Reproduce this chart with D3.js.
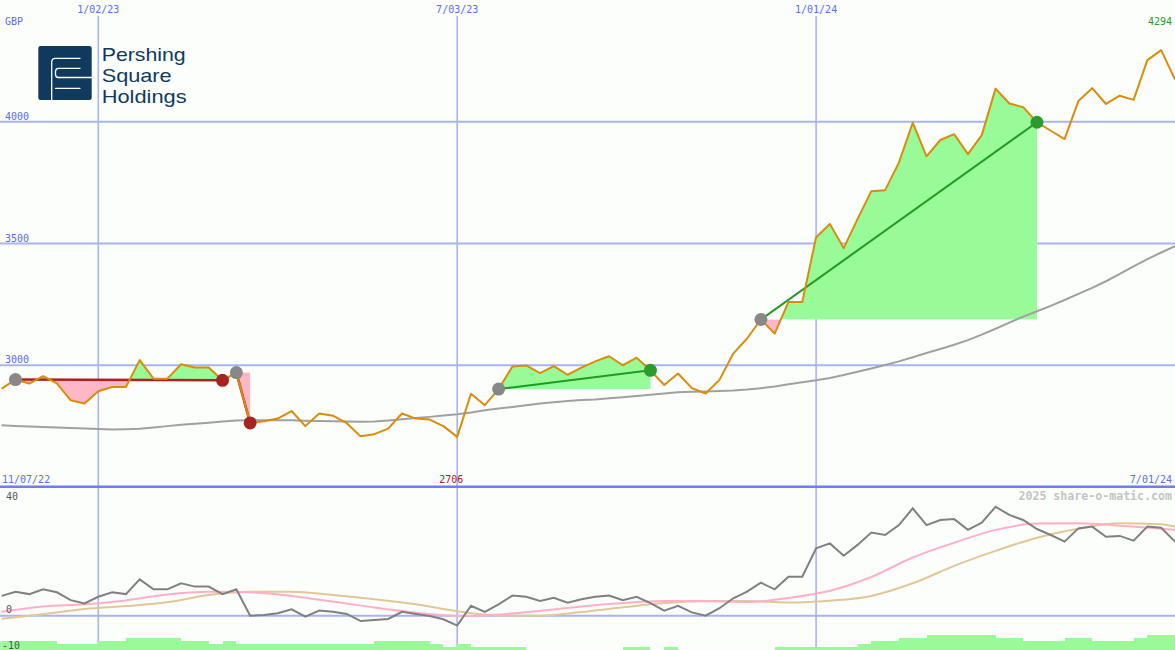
<!DOCTYPE html>
<html><head><meta charset="utf-8">
<script src="https://cdn.jsdelivr.net/npm/d3@7"></script>
<style>
html,body{margin:0;padding:0;background:#fcfefc;}
svg{display:block;}
</style></head><body>
<svg id="chart" width="1175" height="650"></svg>
<script>
// ---------------- DATA ----------------
const startDate = "2022-11-14";          // first weekly close
const price = [2904,2941,2925,2955,2926,2856,2843,2893,2911,2911,
 3021,2945,2945,3004,2991,2991,2938,2970,2763,2770,
 2781,2812,2750,2802,2793,2762,2708,2717,2740,2802,
 2781,2777,2750,2706,2883,2836,2902,2995,2999,2968,
 2996,2961,2990,3016,3037,3000,3031,2979,2919,2966,
 2906,2884,2940,3048,3110,3188,3130,3260,3260,3526,
 3580,3481,3600,3715,3719,3832,3996,3858,3925,3949,
 3867,3945,4136,4075,4060,3998,3963,3929,4085,4138,
 4073,4107,4090,4253,4294,4173];
const movingAverage = [2754,2751,2748,2746,2744,2742,2740,2738,2736,2737,
 2739,2744,2750,2756,2760,2764,2769,2773,2774,2774,
 2774,2774,2772,2771,2770,2769,2768,2769,2773,2778,
 2783,2788,2794,2799,2806,2815,2822,2829,2836,2843,
 2848,2853,2857,2859,2864,2869,2874,2879,2884,2889,
 2891,2892,2894,2896,2900,2906,2913,2922,2930,2938,
 2948,2960,2973,2987,3001,3016,3033,3050,3067,3084,
 3103,3126,3150,3175,3200,3222,3244,3268,3293,3318,
 3345,3375,3406,3436,3463,3489];
const momentum = [6.6,8.0,7.2,8.8,7.8,5.2,4.1,6.3,7.8,7.2,
 12.1,8.8,8.8,10.8,9.7,9.7,7.2,8.8,0.0,0.2,
 0.8,2.1,-0.3,1.7,1.3,0.6,-1.8,-1.4,-1.1,1.3,
 0.6,-0.1,-1.2,-3.3,3.3,1.3,3.8,6.7,6.3,4.9,
 6.0,4.3,5.5,6.3,6.7,5.2,6.3,4.2,1.7,3.3,
 1.1,0.0,2.5,5.8,8.0,11.0,8.8,13.0,13.0,22.5,
 24.1,20.0,23.6,27.7,26.9,30.2,35.8,30.2,31.9,32.2,
 28.6,31.0,36.3,33.6,31.9,28.9,26.9,24.7,29.1,29.7,
 26.3,26.6,25.0,29.7,29.3,24.7];
const smoothWeeks = [0,3,6,9,12,15,18,21,24,27,30,33,36,39,42,45,48,51,54,57,60,63,66,69,72,75,78,81,84,85];
const pinkValues = [1.3,3.1,3.8,5.1,7.1,8.0,7.8,6.6,4.7,2.7,1.0,-0.1,0.4,1.6,3.1,4.2,4.9,4.8,4.6,5.9,8.3,12.9,19.4,24.3,28.6,30.7,30.8,30.0,29.0,28.6];
const tanValues = [-1.0,0.5,2.2,3.2,4.5,6.9,8.0,8.0,6.9,5.5,3.8,1.5,0.1,0.0,1.2,2.8,4.2,4.9,4.9,4.4,5.0,6.6,10.8,16.6,21.6,26.0,29.0,30.8,30.5,29.7];
const volumeLevel = [3,3,3,3,2,2,2,3,3,4,4,4,4,3,3,2,3,
 2,2,2,2,2,2,2,2,2,2,3,3,3,3,2,1,2,1,1,1,1,
 0,0,0,0,0,0,0,1,1,0,1,0,0,0,0,0,0,0,
 1,1,1,1,1,1,2,3,3,4,4,5,5,5,5,5,4,4,3,3,3,4,4,3,3,3,4,5,5,5];
const buyWeek  = [1,17,36,55];
const sellWeek = [16,18,47,75];
const gridDates = ["2023-01-02","2023-07-03","2024-01-01"];
const gridDateLabels = ["1/02/23","7/03/23","1/01/24"];
const priceTicks = [3000,3500,4000];
const lowerTicks = [40,0,-10];
const periodLabels = ["11/07/22","7/01/24"];
const currency = "GBP";
const logoLines = ["Pershing","Square","Holdings"];

// ---------------- SETUP ----------------
const W = 1175, H = 650, DIV = 487;
const svg = d3.select("#chart");
const parse = d3.utcParse("%Y-%m-%d");
const d0 = parse(startDate);
const dates = price.map((_, k) => d3.utcDay.offset(d0, 7 * k));
const x = d3.scaleUtc().domain([d0, dates[dates.length - 1]]).range([1.67, 1175]);
const y = d3.scaleLinear().domain([2500, 4500]).range([DIV, 0]);
const y2 = d3.scaleLinear().domain([0, 40]).range([615.7, 495.7]);
const vol = d3.scaleLinear().domain([0, 5]).range([0, 15]);

const C = {
  bg: "#fcfefc", grid: "#a9b3f3", div: "#6e7eec", lab: "#5a6cf0",
  price: "#da8c0c", ma: "#a0a0a0", green: "#98fb98", pink: "#ffb6c6",
  gLine: "#229a22", rLine: "#b02020", gDot: "#2c9a2c", rDot: "#a82222", buy: "#888888",
  mom: "#808080", pinkL: "#ffb0c8", tanL: "#e2c898", vol: "#98fb98", navy: "#0f3a5e"
};
const mono = "'DejaVu Sans Mono', 'Liberation Mono', monospace";

svg.append("rect").attr("width", W).attr("height", H).attr("fill", C.bg);
const defs = svg.append("defs");
defs.append("clipPath").attr("id", "upper").append("rect").attr("x", 0).attr("y", 0).attr("width", W).attr("height", DIV);
defs.append("clipPath").attr("id", "lower").append("rect").attr("x", 0).attr("y", DIV).attr("width", W).attr("height", H - DIV);

// ---------------- GRID ----------------
const grid = svg.append("g");
grid.selectAll("line.h").data(priceTicks).join("line")
  .attr("x1", 0).attr("x2", W).attr("y1", d => y(d)).attr("y2", d => y(d))
  .attr("stroke", C.grid).attr("stroke-width", 2);
grid.append("line").attr("x1", 0).attr("x2", W).attr("y1", y2(0)).attr("y2", y2(0))
  .attr("stroke", C.grid).attr("stroke-width", 2);
grid.selectAll("line.v").data(gridDates).join("line")
  .attr("x1", d => x(parse(d))).attr("x2", d => x(parse(d)))
  .attr("y1", 16).attr("y2", H)
  .attr("stroke", C.grid).attr("stroke-width", 1.6);

// ---------------- UPPER PANEL ----------------
const up = svg.append("g").attr("clip-path", "url(#upper)");
const trades = buyWeek.map((b, i) => ({ b, s: sellWeek[i], win: price[sellWeek[i]] > price[b] }));
trades.forEach((t, i) => {
  const seg = d3.range(t.b, t.s + 1);
  const yl = y(price[t.b]);
  const area = d3.area().x(k => x(dates[k])).y0(yl).y1(k => y(price[k]));
  defs.append("clipPath").attr("id", "ab" + i).append("rect").attr("x", 0).attr("y", 0).attr("width", W).attr("height", yl);
  defs.append("clipPath").attr("id", "be" + i).append("rect").attr("x", 0).attr("y", yl).attr("width", W).attr("height", DIV - yl);
  up.append("g").attr("clip-path", `url(#ab${i})`).append("path").attr("d", area(seg)).attr("fill", C.green);
  up.append("g").attr("clip-path", `url(#be${i})`).append("path").attr("d", area(seg)).attr("fill", C.pink);
});

const lineP = d3.line().x((d, k) => x(dates[k])).y(d => y(d));
up.append("path").attr("d", lineP(movingAverage)).attr("fill", "none").attr("stroke", C.ma).attr("stroke-width", 2);

trades.forEach(t => {
  up.append("line")
    .attr("x1", x(dates[t.b])).attr("y1", y(price[t.b]))
    .attr("x2", x(dates[t.s])).attr("y2", y(price[t.s]))
    .attr("stroke", t.win ? C.gLine : C.rLine).attr("stroke-width", t.win ? 2 : 2.5);
});
up.append("path").attr("d", lineP(price)).attr("fill", "none").attr("stroke", C.price).attr("stroke-width", 2).attr("stroke-linejoin", "round");

trades.forEach(t => {
  up.append("circle").attr("cx", x(dates[t.b])).attr("cy", y(price[t.b])).attr("r", 6.5).attr("fill", C.buy);
  up.append("circle").attr("cx", x(dates[t.s])).attr("cy", y(price[t.s])).attr("r", 6.5).attr("fill", t.win ? C.gDot : C.rDot);
});

// ---------------- LOWER PANEL ----------------
const lo = svg.append("g").attr("clip-path", "url(#lower)");
lo.selectAll("rect.v").data(volumeLevel).join("rect")
  .attr("x", (d, k) => x(dates[k]))
  .attr("width", (d, k) => (k < dates.length - 1 ? x(dates[k + 1]) - x(dates[k]) : 14))
  .attr("y", d => H - vol(d)).attr("height", d => vol(d))
  .attr("fill", C.vol).attr("shape-rendering", "crispEdges");
lo.append("rect").attr("x", 0).attr("width", x(dates[0])).attr("y", H - vol(volumeLevel[0])).attr("height", vol(volumeLevel[0])).attr("fill", C.vol);

const lineS = d3.line().curve(d3.curveMonotoneX).x((d, i) => x(dates[smoothWeeks[i]])).y(d => y2(d));
lo.append("path").attr("d", lineS(tanValues)).attr("fill", "none").attr("stroke", C.tanL).attr("stroke-width", 2);
lo.append("path").attr("d", lineS(pinkValues)).attr("fill", "none").attr("stroke", C.pinkL).attr("stroke-width", 2);
const lineM = d3.line().x((d, k) => x(dates[k])).y(d => y2(d));
lo.append("path").attr("d", lineM(momentum)).attr("fill", "none").attr("stroke", C.mom).attr("stroke-width", 2);

// divider
svg.append("line").attr("x1", 0).attr("x2", W).attr("y1", 486.7).attr("y2", 486.7)
  .attr("stroke", C.div).attr("stroke-width", 2.6);

// ---------------- TEXT ----------------
const T = svg.append("g").attr("font-family", mono).attr("font-size", 10);
T.append("text").attr("x", 5).attr("y", 25).attr("fill", C.lab).text(currency);
T.selectAll("text.d").data(gridDates).join("text")
  .attr("x", d => x(parse(d))).attr("y", 12.5).attr("text-anchor", "middle").attr("fill", C.lab)
  .text((d, i) => gridDateLabels[i]);
T.selectAll("text.p").data(priceTicks).join("text")
  .attr("x", 5).attr("y", d => y(d) - 2).attr("fill", C.lab).text(d => d);
const maxK = d3.maxIndex(price), minK = d3.minIndex(price);
T.append("text").attr("x", 1172).attr("y", 25).attr("text-anchor", "end").attr("fill", "#22a022").text(price[maxK]);
T.append("text").attr("x", x(dates[minK]) - 6).attr("y", 483).attr("text-anchor", "middle").attr("fill", "#b01818").text(price[minK]);
T.append("text").attr("x", 2).attr("y", 483).attr("fill", C.lab).text(periodLabels[0]);
T.append("text").attr("x", 1172).attr("y", 483).attr("text-anchor", "end").attr("fill", C.lab).text(periodLabels[1]);
T.selectAll("text.l").data(lowerTicks).join("text")
  .attr("x", d => d < 0 ? 2 : 6).attr("y", d => y2(d) + (d === 40 ? 4 : d === 0 ? -3 : 3))
  .attr("fill", "#555").text(d => d === -10 ? "-10" : d);
svg.append("text").attr("x", 1172).attr("y", 500).attr("text-anchor", "end")
  .attr("font-family", mono).attr("font-size", 11.6).attr("font-weight", "bold").attr("fill", "#c4c4c4")
  .text("2025 share-o-matic.com");

// ---------------- LOGO ----------------
const lg = svg.append("g");
lg.append("rect").attr("x", 38.3).attr("y", 46).attr("width", 53.4).attr("height", 54).attr("rx", 2.5).attr("fill", C.navy);
const wl = "#ffffff";
lg.append("path").attr("d", "M51.7,100 V62 Q51.7,58.3 55.5,58.3 H80")
  .attr("fill", "none").attr("stroke", wl).attr("stroke-width", 1.3).attr("stroke-linecap", "round");
lg.append("path").attr("d", "M80,68.3 H58.5 Q55.5,68.3 55.5,71.5 V74.5 Q55.5,77.5 58.5,77.5 H91.7")
  .attr("fill", "none").attr("stroke", wl).attr("stroke-width", 1.3).attr("stroke-linecap", "round");
lg.append("path").attr("d", "M55.5,88.3 H80")
  .attr("fill", "none").attr("stroke", wl).attr("stroke-width", 1.3).attr("stroke-linecap", "round");
const tl = [84, 70, 85];
lg.selectAll("text").data(logoLines).join("text")
  .attr("x", 101.7).attr("y", (d, i) => 60.6 + i * 21.3)
  .attr("font-family", "'Liberation Sans', Arial, sans-serif").attr("font-size", 19)
  .attr("fill", C.navy)
  .attr("textLength", (d, i) => tl[i]).attr("lengthAdjust", "spacingAndGlyphs")
  .text(d => d);
</script>
</body></html>
